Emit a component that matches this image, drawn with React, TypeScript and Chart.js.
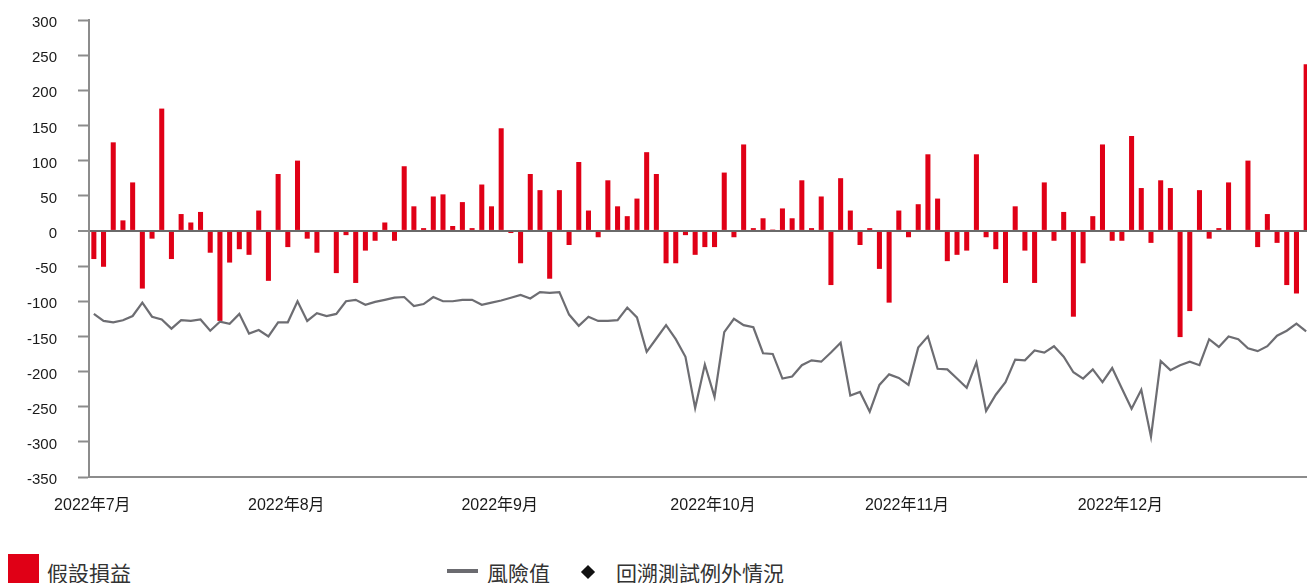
import React, { useEffect, useRef } from 'react';
import { Chart, registerables } from 'chart.js';

Chart.register(...registerables);

const months = ['2022年7月', '2022年8月', '2022年9月', '2022年10月', '2022年11月', '2022年12月'];
const tradingDaysPerMonth = [20, 22, 22, 20, 22, 20];

const pnl = [
  -40, -51, 126, 15, 69, -82, -11, 174, -40, 24,
  12, 27, -31, -128, -45, -26, -34, 29, -71, 81,
  -23, 100, -11, -31, 0, -60, -6, -74, -28, -14,
  12, -14, 92, 35, 4, 49, 52, 7, 41, 4,
  66, 35, 146, -3, -46, 81, 58, -68, 58, -20,
  98, 29, -9, 72, 35, 21, 46, 112, 81, -46,
  -46, -6, -34, -23, -23, 83, -9, 123, 4, 18,
  2, 32, 18, 72, 4, 49, -77, 75, 29, -20,
  4, -54, -102, 29, -9, 38, 109, 46, -43, -34,
  -28, 109, -9, -26, -74, 35, -28, -74, 69, -14,
  27, -122, -46, 21, 123, -14, -14, 135, 61, -17,
  72, 61, -151, -114, 58, -11, 4, 69, 0, 100,
  -23, 24, -17, -77, -89, 237,
];

const varValues = [
  -118, -128, -130, -127, -121, -102, -122, -126, -139, -127,
  -128, -126, -142, -129, -132, -118, -146, -141, -150, -130,
  -130, -100, -128, -117, -121, -118, -100, -98, -105, -101,
  -98, -95, -94, -107, -104, -94, -100, -100, -98, -98,
  -105, -102, -99, -95, -91, -96, -87, -88, -87, -119,
  -135, -122, -128, -128, -127, -109, -123, -172, -153, -134,
  -154, -179, -252, -190, -236, -144, -125, -134, -137, -174,
  -175, -210, -207, -191, -184, -186, -173, -159, -234, -229,
  -257, -219, -204, -209, -219, -166, -150, -196, -197, -210,
  -223, -187, -256, -233, -215, -183, -184, -170, -173, -164,
  -179, -201, -210, -197, -215, -195, -224, -253, -226, -293,
  -185, -198, -191, -186, -191, -154, -165, -150, -154, -167,
  -171, -164, -149, -142, -132, -143,
];

const categories: string[] = months.flatMap((m, k) => Array(tradingDaysPerMonth[k]).fill(m));

const FONT = "'Liberation Sans', 'Noto Sans CJK TC', sans-serif";
const CJK = "'Noto Sans CJK TC', 'Liberation Sans', sans-serif";

export default function App() {
  const ref = useRef<HTMLCanvasElement>(null);

  useEffect(() => {
    if (!ref.current) return;
    const chart = new Chart(ref.current, {
      type: 'bar',
      data: {
        labels: categories,
        datasets: [
          {
            type: 'line',
            label: '風險值',
            data: varValues,
            borderColor: '#6d6d72',
            borderWidth: 2.2,
            pointRadius: 0,
            tension: 0,
            order: 0,
          } as any,
          {
            type: 'bar',
            label: '假設損益',
            data: pnl,
            backgroundColor: '#e00016',
            borderWidth: 0,
            barPercentage: 0.52,
            categoryPercentage: 1,
            order: 1,
          },
        ],
      },
      options: {
        responsive: false,
        animation: false,
        layout: { padding: { top: 20, left: 0, right: 0, bottom: 0 } },
        plugins: { legend: { display: false }, tooltip: { enabled: false } },
        scales: {
          x: {
            offset: true,
            grid: { display: false, drawTicks: false },
            border: { display: true, color: '#8c8c8c', width: 2 },
            ticks: {
              autoSkip: false,
              maxRotation: 0,
              minRotation: 0,
              padding: 19,
              labelOffset: -1.5,
              color: '#1a1a1a',
              font: { size: 16, family: FONT },
              callback: (_v: any, index: number) =>
                index === 0 || categories[index - 1] !== categories[index] ? categories[index] : '',
            },
            afterFit: (s: any) => {
              s.height = 37;
              s.paddingLeft = 0;
              s.paddingRight = 0;
            },
          },
          y: {
            min: -350,
            max: 300,
            z: 1,
            ticks: {
              stepSize: 50,
              padding: 21,
              labelOffset: 3,
              color: '#1a1a1a',
              font: { size: 15, family: FONT },
            },
            grid: {
              color: (ctx: any) => (ctx.tick && ctx.tick.value === 0 ? '#6a6a6a' : 'rgba(0,0,0,0)'),
              lineWidth: (ctx: any) => (ctx.tick && ctx.tick.value === 0 ? 2 : 1),
              tickColor: '#8c8c8c',
              tickWidth: 2,
              tickLength: 11,
              drawTicks: true,
            },
            border: { color: '#8c8c8c', width: 2 },
            afterFit: (s: any) => {
              s.width = 89;
              s.paddingTop = 0;
              s.paddingBottom = 0;
            },
          },
        },
      },
    });
    return () => chart.destroy();
  }, []);

  const legendText: React.CSSProperties = {
    position: 'absolute',
    top: 559,
    fontFamily: CJK,
    fontSize: 21,
    lineHeight: '26px',
    color: '#333',
    whiteSpace: 'nowrap',
  };

  return (
    <div
      style={{
        position: 'absolute',
        left: 0,
        top: 0,
        width: 1307,
        height: 583,
        overflow: 'hidden',
        background: '#fff',
      }}
    >
      <canvas ref={ref} width={1311} height={514} style={{ position: 'absolute', left: 0, top: 0, width: 1311, height: 514 }} />
      <div style={{ position: 'absolute', left: 8, top: 554, width: 31, height: 31, background: '#e00016' }} />
      <div style={{ ...legendText, left: 47 }}>假設損益</div>
      <div style={{ position: 'absolute', left: 447, top: 569, width: 31, height: 4, background: '#6b6b70' }} />
      <div style={{ ...legendText, left: 487 }}>風險值</div>
      <div
        style={{
          position: 'absolute',
          left: 583,
          top: 567,
          width: 10,
          height: 10,
          background: '#111',
          transform: 'rotate(45deg)',
        }}
      />
      <div style={{ ...legendText, left: 616 }}>回溯測試例外情況</div>
    </div>
  );
}
